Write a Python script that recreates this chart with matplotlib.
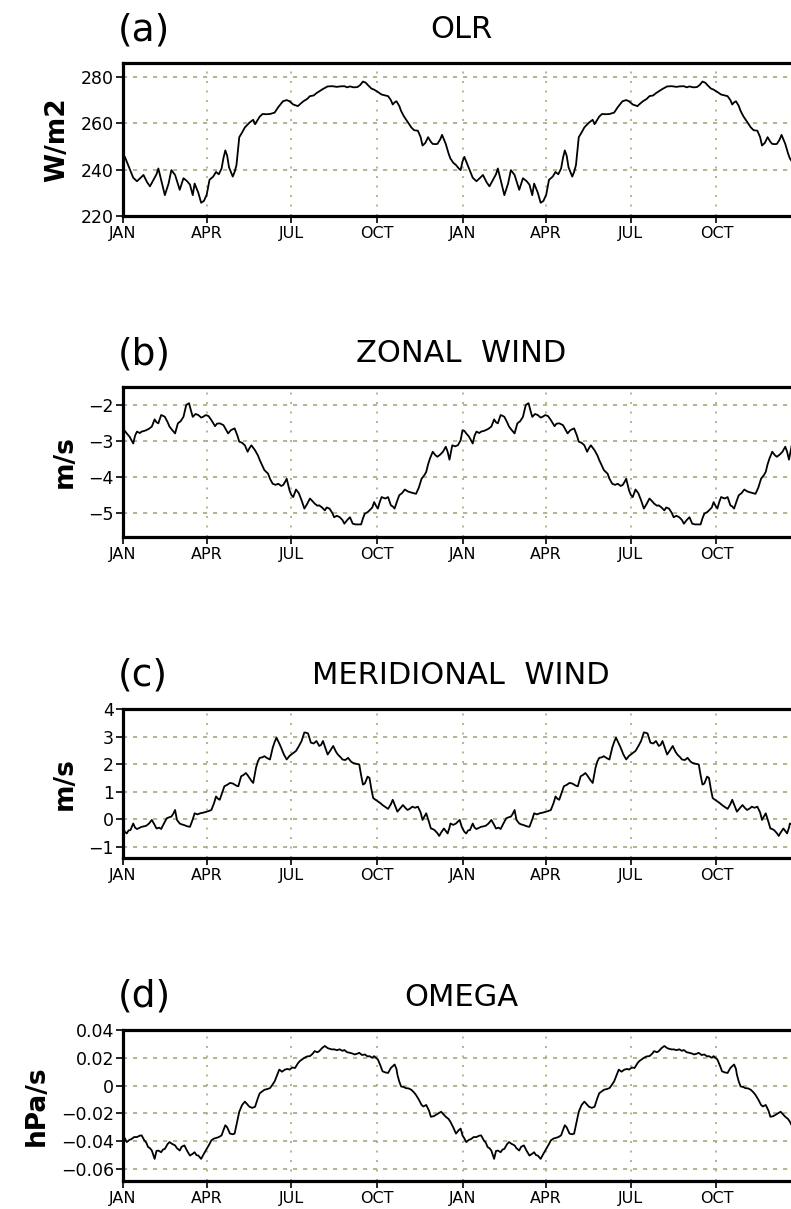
import numpy as np
import matplotlib
matplotlib.use("Agg")
import matplotlib.pyplot as plt

# ---------------- data (one climatological year, shown twice) ----------------
OLR_DAYS = [0, 2, 7, 11, 15, 19, 22, 26, 29, 32, 36, 38, 42, 45, 49, 52, 56, 61, 65, 69,
            72, 75, 77, 81, 84, 87, 90, 93, 97, 100, 103, 106, 108, 110, 112, 114, 118, 120,
            122, 125, 128, 131, 136, 140, 142, 147, 150, 154, 158, 163, 167, 172, 176, 179,
            183, 188, 191, 194, 198, 201, 205, 208, 212, 215, 220, 225, 230, 233, 238, 241,
            244, 248, 252, 255, 258, 261, 263, 267, 270, 274, 278, 282, 285, 288, 290, 292,
            294, 297, 299, 302, 304, 307, 310, 313, 317, 320, 322, 325, 328, 331, 333, 336,
            338, 341, 343, 345, 347, 350, 352, 355, 358, 361, 363]
OLR = [243.5, 245.5, 240.5, 236.5, 235, 236.5, 237.7, 234.5, 232.8, 235, 238, 240.5, 234,
       229, 234, 239.8, 237.7, 231.3, 236.3, 235, 233.5, 229, 234, 230, 225.7, 226.5, 229.2,
       235.6, 237, 239, 238, 240.5, 245, 248.3, 246, 241, 237, 239, 242, 254, 256, 258.2,
       260.3, 261.5, 259.6, 262.9, 264, 263.9, 264, 264.6, 267, 269.5, 270, 269.5, 268.1,
       267.4, 268.5, 269.5, 270.5, 271.7, 272, 273, 274, 274.8, 275.9, 276, 275.7, 275.9,
       276, 275.5, 275.9, 275.5, 275.6, 276.5, 278, 277.5, 276.6, 275, 274.5, 273.5, 272.4,
       272, 271.7, 270, 268.1, 269, 269.5, 267.5, 265.3, 263, 261.8, 260, 258.2, 257, 256.8,
       254, 250.4, 251.5, 254, 252, 251.1, 251, 251.1, 253, 255, 253, 251.1, 247, 244.8,
       243, 242, 240.5, 239.8]

U_DAYS = [0, 2, 4, 7, 11, 13, 15, 18, 20, 23, 25, 28, 31, 34, 36, 38, 41, 43, 45, 48, 50,
          53, 56, 59, 62, 65, 68, 71, 73, 75, 78, 81, 84, 86, 89, 92, 95, 99, 101, 104, 108,
          110, 113, 116, 120, 123, 125, 128, 131, 134, 136, 138, 142, 145, 147, 150, 152,
          156, 158, 161, 164, 167, 170, 172, 174, 176, 179, 181, 183, 186, 189, 192, 195,
          198, 201, 204, 206, 209, 211, 214, 217, 219, 222, 225, 227, 230, 233, 236, 238,
          241, 244, 247, 250, 253, 256, 258, 260, 263, 265, 268, 270, 272, 274, 276, 278,
          282, 285, 288, 290, 292, 295, 297, 300, 303, 306, 308, 312, 315, 318, 321, 324,
          326, 328, 330, 333, 336, 338, 341, 344, 347, 349, 351, 354, 357, 360, 363]
U = [-2.70, -2.72, -2.79, -2.88, -3.07, -2.85, -2.74, -2.78, -2.74, -2.72, -2.70, -2.66,
     -2.60, -2.40, -2.48, -2.51, -2.28, -2.30, -2.33, -2.48, -2.60, -2.70, -2.79, -2.51,
     -2.45, -2.33, -2.00, -1.95, -2.15, -2.33, -2.25, -2.28, -2.35, -2.33, -2.28, -2.31,
     -2.42, -2.59, -2.52, -2.51, -2.56, -2.65, -2.79, -2.70, -2.65, -2.85, -3.02, -3.05,
     -3.12, -3.30, -3.20, -3.12, -3.26, -3.40, -3.53, -3.70, -3.81, -3.91, -4.05, -4.19,
     -4.22, -4.19, -4.25, -4.23, -4.15, -4.05, -4.37, -4.50, -4.56, -4.35, -4.45, -4.65,
     -4.88, -4.75, -4.60, -4.68, -4.74, -4.80, -4.79, -4.85, -4.93, -4.85, -4.88, -5.00,
     -5.12, -5.08, -5.12, -5.20, -5.30, -5.20, -5.12, -5.30, -5.32, -5.32, -5.32, -5.15,
     -5.02, -4.98, -4.93, -4.85, -4.70, -4.80, -4.88, -4.70, -4.56, -4.60, -4.56, -4.79,
     -4.82, -4.88, -4.65, -4.51, -4.45, -4.35, -4.40, -4.42, -4.45, -4.47, -4.30, -4.05,
     -3.95, -3.86, -3.65, -3.49, -3.30, -3.40, -3.44, -3.38, -3.30, -3.16, -3.30, -3.52,
     -3.12, -3.15, -3.12, -2.98]

V_DAYS = [0, 2, 4, 6, 8, 11, 13, 15, 18, 20, 23, 25, 28, 31, 34, 36, 39, 41, 44, 47, 50,
          52, 54, 56, 58, 61, 63, 66, 69, 72, 75, 77, 80, 83, 87, 90, 92, 95, 98, 100, 102,
          104, 107, 109, 112, 115, 118, 120, 122, 124, 127, 130, 132, 134, 136, 138, 140,
          143, 145, 147, 150, 152, 155, 158, 161, 163, 165, 168, 170, 173, 176, 179, 181,
          184, 186, 189, 192, 195, 197, 199, 202, 205, 208, 211, 213, 215, 218, 220, 223,
          226, 229, 231, 234, 236, 239, 242, 245, 247, 250, 254, 256, 258, 260, 261, 263,
          265, 267, 269, 272, 274, 277, 279, 282, 285, 288, 290, 293, 295, 298, 301, 304,
          306, 309, 311, 314, 317, 320, 322, 324, 326, 329, 331, 333, 335, 338, 340, 342,
          345, 347, 349, 351, 352, 355, 358, 360, 362, 364]
V = [-0.33, -0.45, -0.51, -0.40, -0.39, -0.15, -0.30, -0.35, -0.30, -0.27, -0.25, -0.23,
     -0.15, -0.02, -0.20, -0.33, -0.30, -0.35, -0.15, 0.04, 0.08, 0.10, 0.20, 0.34, -0.02,
     -0.15, -0.18, -0.21, -0.25, -0.27, 0.00, 0.22, 0.18, 0.22, 0.25, 0.28, 0.30, 0.34,
     0.60, 0.83, 0.75, 0.71, 1.00, 1.20, 1.25, 1.32, 1.30, 1.26, 1.22, 1.20, 1.56, 1.62,
     1.68, 1.60, 1.50, 1.40, 1.32, 1.87, 2.10, 2.23, 2.25, 2.29, 2.22, 2.17, 2.60, 2.80,
     2.96, 2.75, 2.60, 2.35, 2.17, 2.30, 2.35, 2.42, 2.48, 2.65, 2.84, 3.15, 3.14, 3.11,
     2.78, 2.75, 2.84, 2.66, 2.70, 2.84, 2.55, 2.35, 2.50, 2.66, 2.45, 2.35, 2.25, 2.17,
     2.15, 2.23, 2.10, 2.05, 2.02, 1.99, 1.60, 1.26, 1.30, 1.38, 1.55, 1.50, 1.10, 0.77,
     0.70, 0.65, 0.58, 0.52, 0.45, 0.38, 0.55, 0.71, 0.45, 0.28, 0.40, 0.52, 0.40, 0.34,
     0.40, 0.46, 0.42, 0.46, 0.25, -0.02, 0.10, 0.22, -0.10, -0.33, -0.35, -0.39, -0.50,
     -0.60, -0.48, -0.33, -0.42, -0.51, -0.30, -0.15, -0.20, -0.15, -0.08, -0.02, -0.25]

W_DAYS = [0, 2, 4, 7, 9, 12, 15, 18, 20, 23, 25, 27, 29, 31, 34, 36, 38, 41, 43, 45, 48,
          50, 53, 56, 58, 61, 63, 66, 69, 72, 75, 77, 79, 81, 84, 87, 90, 93, 95, 98, 100,
          103, 106, 108, 110, 112, 115, 118, 120, 123, 125, 128, 131, 133, 136, 139, 142,
          145, 147, 150, 152, 155, 158, 160, 163, 166, 168, 171, 174, 177, 179, 182, 185,
          188, 190, 193, 195, 198, 201, 204, 206, 209, 211, 214, 217, 220, 222, 225, 227,
          230, 233, 236, 238, 241, 244, 247, 249, 252, 254, 257, 260, 263, 265, 268, 270,
          272, 274, 277, 279, 282, 285, 288, 290, 292, 294, 295, 297, 299, 302, 304, 307,
          310, 313, 315, 318, 321, 323, 326, 329, 331, 334, 336, 339, 342, 345, 347, 350,
          352, 355, 358, 361, 363]
OMEGA = [-0.0358, -0.038, -0.0406, -0.039, -0.0385, -0.037, -0.037, -0.036, -0.0358,
         -0.0394, -0.041, -0.0442, -0.045, -0.0467, -0.0527, -0.047, -0.0467, -0.0479,
         -0.046, -0.0455, -0.042, -0.0406, -0.042, -0.043, -0.045, -0.0467, -0.044, -0.043,
         -0.047, -0.0503, -0.049, -0.0479, -0.050, -0.0503, -0.0527, -0.049, -0.0455,
         -0.042, -0.0394, -0.038, -0.0377, -0.037, -0.0358, -0.032, -0.0285, -0.030,
         -0.0345, -0.035, -0.0345, -0.025, -0.0188, -0.014, -0.0115, -0.013, -0.0152,
         -0.016, -0.0152, -0.009, -0.0055, -0.004, -0.003, -0.0025, -0.0018, 0.000, 0.003,
         0.008, 0.0115, 0.010, 0.0115, 0.012, 0.0115, 0.013, 0.0127, 0.016, 0.0176, 0.019,
         0.020, 0.021, 0.0212, 0.023, 0.0248, 0.024, 0.0248, 0.027, 0.0285, 0.027, 0.0265,
         0.026, 0.0261, 0.0255, 0.0261, 0.025, 0.0256, 0.024, 0.0236, 0.023, 0.0224, 0.023,
         0.0236, 0.022, 0.0224, 0.021, 0.0212, 0.020, 0.0212, 0.020, 0.0188, 0.014, 0.0103,
         0.0095, 0.0091, 0.0127, 0.014, 0.0152, 0.012, 0.0079, 0.003, -0.0006, -0.001,
         -0.0018, -0.002, -0.003, -0.005, -0.0067, -0.010, -0.0139, -0.015, -0.0139, -0.018,
         -0.0224, -0.022, -0.0212, -0.020, -0.0188, -0.021, -0.0224, -0.024, -0.026, -0.030,
         -0.0345, -0.032, -0.0309]

MONTH_TICKS = [0, 90, 181, 273, 365, 455, 546, 638]
MONTH_LABELS = ["JAN", "APR", "JUL", "OCT", "JAN", "APR", "JUL", "OCT"]

OLR_TICKS = [220, 240, 260, 280]
OLR_TICKLABELS = ["220", "240", "260", "280"]
U_TICKS = [-5, -4, -3, -2]
U_TICKLABELS = ["\u22125", "\u22124", "\u22123", "\u22122"]
V_TICKS = [-1, 0, 1, 2, 3, 4]
V_TICKLABELS = ["\u22121", "0", "1", "2", "3", "4"]
W_TICKS = [-0.06, -0.04, -0.02, 0, 0.02, 0.04]
W_TICKLABELS = ["\u22120.06", "\u22120.04", "\u22120.02", "0", "0.02", "0.04"]

TITLES = ["OLR", "ZONAL  WIND", "MERIDIONAL  WIND", "OMEGA"]
TAGS = ["(a)", "(b)", "(c)", "(d)"]
YLABELS = ["W/m2", "m/s", "m/s", "hPa/s"]

# ---------------- layout ----------------
W, H = 791, 1209
fig = plt.figure(figsize=(W / 100, H / 100), dpi=100)
plt.rcParams["font.family"] = ["DejaVu Sans"]

AX_LEFT_PX, AX_RIGHT_PX = 123, 802
# (top px, bottom px) of each panel
PANEL_PX = [(63, 216), (387, 537), (709, 858), (1030, 1181)]
YLIMS = [(220, 286), (-5.67, -1.5), (-1.4, 4.0), (-0.0686, 0.04)]

series = [(OLR_DAYS, OLR, OLR_TICKS, OLR_TICKLABELS),
          (U_DAYS, U, U_TICKS, U_TICKLABELS),
          (V_DAYS, V, V_TICKS, V_TICKLABELS),
          (W_DAYS, OMEGA, W_TICKS, W_TICKLABELS)]

GRID_COLOR = "#aaa77c"

for i, ((days, vals, yt, ytl), (top, bot)) in enumerate(zip(series, PANEL_PX)):
    ax = fig.add_axes([AX_LEFT_PX / W, 1 - bot / H,
                       (AX_RIGHT_PX - AX_LEFT_PX) / W, (bot - top) / H])
    d = np.asarray(days, dtype=float)
    v = np.asarray(vals, dtype=float)
    x = np.concatenate([d, d + 365])
    y = np.concatenate([v, v])
    ax.plot(x, y, color="black", lw=1.3, zorder=3)
    ax.set_xlim(0, 730)
    ax.set_ylim(*YLIMS[i])
    ax.set_xticks(MONTH_TICKS)
    ax.set_xticklabels(MONTH_LABELS)
    ax.set_yticks(yt)
    ax.set_yticklabels(ytl)
    ax.xaxis.grid(True, color=GRID_COLOR, lw=1.2, ls=(0, (1.2, 4.5)))
    ax.yaxis.grid(True, color=GRID_COLOR, lw=1.2, ls=(0, (2.5, 3.5)))
    ax.set_axisbelow(True)
    for s in ["top", "bottom", "left"]:
        ax.spines[s].set_linewidth(2.3)
    ax.spines["right"].set_visible(False)
    ax.tick_params(axis="both", direction="out", length=5, width=1.2,
                   labelsize=12.5, colors="black")
    ax.tick_params(axis="y", pad=1.5)
    ax.tick_params(axis="x", pad=2.5, labelsize=11.5)
    ax.set_ylabel(YLABELS[i], fontsize=19, fontweight="bold", labelpad=8)

    ytxt = 1 - (top - 33) / H
    fig.text(118 / W, ytxt, TAGS[i], fontsize=27, ha="left", va="center")
    fig.text(461 / W, ytxt, TITLES[i], fontsize=22, ha="center", va="center")

fig.savefig("out.png", dpi=100)
